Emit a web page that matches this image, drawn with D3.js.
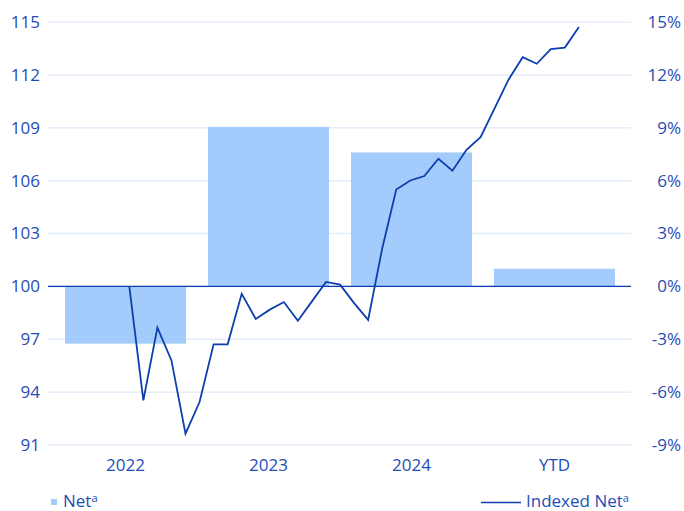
<!DOCTYPE html>
<html><head><meta charset="utf-8">
<script src="https://cdn.jsdelivr.net/npm/d3@7/dist/d3.min.js"></script>
<style>
html,body{margin:0;padding:0;background:#fff;}
svg{display:block;font-family:"Open Sans",sans-serif;}
</style></head>
<body>
<svg id="chart" width="684" height="511"></svg>
<script>
const categories = ["2022", "2023", "2024", "YTD"];
const netValues = [-3.25, 9.05, 7.6, 1.0];
const indexedNet = [100, 93.53, 97.66, 95.8, 91.64, 93.44, 96.71, 96.71, 99.58, 98.15, 98.68, 99.11, 98.05, 99.15, 100.25, 100.1, 99.05, 98.1, 102.15, 105.5, 106.01, 106.26, 107.24, 106.56, 107.75, 108.47, 110.1, 111.74, 113.0, 112.63, 113.46, 113.55, 114.72];
const leftTicks = [91, 94, 97, 100, 103, 106, 109, 112, 115];
const rightTicks = [-9, -6, -3, 0, 3, 6, 9, 12, 15];

const textColor = "#1f4db5", lineColor = "#0d3fae", barColor = "#a3cbfb", gridColor = "#e4eefb";
const svg = d3.select("#chart");
const plotL = 48, plotR = 631, plotTop = 22, plotBottom = 445;

const yL = d3.scaleLinear().domain([91, 115]).range([plotBottom, plotTop]);
const yR = d3.scaleLinear().domain([-9, 15]).range([plotBottom, plotTop]);
const x = d3.scaleBand().domain(categories).range([54, 626]).paddingInner(0.154).paddingOuter(0.077);
const xLine = d3.scaleLinear().domain([0, indexedNet.length - 1]).range([129.3, 578.9]);

// grid
svg.append("g").selectAll("line").data(leftTicks).join("line")
  .attr("x1", plotL).attr("x2", plotR)
  .attr("y1", d => yL(d)).attr("y2", d => yL(d))
  .attr("stroke", gridColor).attr("stroke-width", 1.5);

// bars
svg.append("g").selectAll("rect").data(netValues).join("rect")
  .attr("x", (d, i) => x(categories[i]))
  .attr("width", x.bandwidth())
  .attr("y", d => yR(Math.max(0, d)))
  .attr("height", d => Math.abs(yR(d) - yR(0)))
  .attr("fill", barColor);

// zero line
svg.append("line").attr("x1", plotL).attr("x2", plotR)
  .attr("y1", yL(100)).attr("y2", yL(100))
  .attr("stroke", lineColor).attr("stroke-width", 1.3);

// line
svg.append("path").datum(indexedNet)
  .attr("d", d3.line().x((d, i) => xLine(i)).y(d => yL(d)))
  .attr("fill", "none").attr("stroke", lineColor).attr("stroke-width", 1.8)
  .attr("stroke-linejoin", "miter");

// left axis
const axL = svg.append("g").attr("transform", `translate(40,0)`)
  .call(d3.axisLeft(yL).tickValues(leftTicks).tickSize(0).tickPadding(0).tickFormat(d3.format("d")));
axL.select(".domain").remove();
axL.selectAll("text").attr("fill", textColor).style("font-size", "17px").style("font-family", "Open Sans");

// right axis
const axR = svg.append("g").attr("transform", `translate(681,0)`)
  .call(d3.axisRight(yR).tickValues(rightTicks).tickSize(0).tickPadding(0).tickFormat(d => d + "%"));
axR.select(".domain").remove();
axR.selectAll("text").attr("fill", textColor).attr("text-anchor", "end").style("font-size", "17px").style("font-family", "Open Sans");

// x axis
const axX = svg.append("g").attr("transform", `translate(0,${plotBottom})`)
  .call(d3.axisBottom(x).tickSize(0).tickPadding(14));
axX.select(".domain").remove();
axX.selectAll("text").attr("fill", textColor).style("font-size", "17px").style("font-family", "Open Sans");

// legend
const lg = svg.append("g");
lg.append("rect").attr("x", 51).attr("y", 499).attr("width", 6).attr("height", 6).attr("fill", barColor);
const t1 = lg.append("text").attr("x", 63).attr("y", 507).attr("fill", textColor).style("font-size", "17px");
t1.append("tspan").text("Net");
t1.append("tspan").attr("dy", -5).style("font-size", "11px").text("a");
lg.append("line").attr("x1", 481).attr("x2", 521).attr("y1", 502.5).attr("y2", 502.5).attr("stroke", lineColor).attr("stroke-width", 1.6);
const t2 = lg.append("text").attr("x", 526).attr("y", 507).attr("fill", textColor).style("font-size", "17px");
t2.append("tspan").text("Indexed Net");
t2.append("tspan").attr("dy", -5).style("font-size", "11px").text("a");
</script>
</body></html>
